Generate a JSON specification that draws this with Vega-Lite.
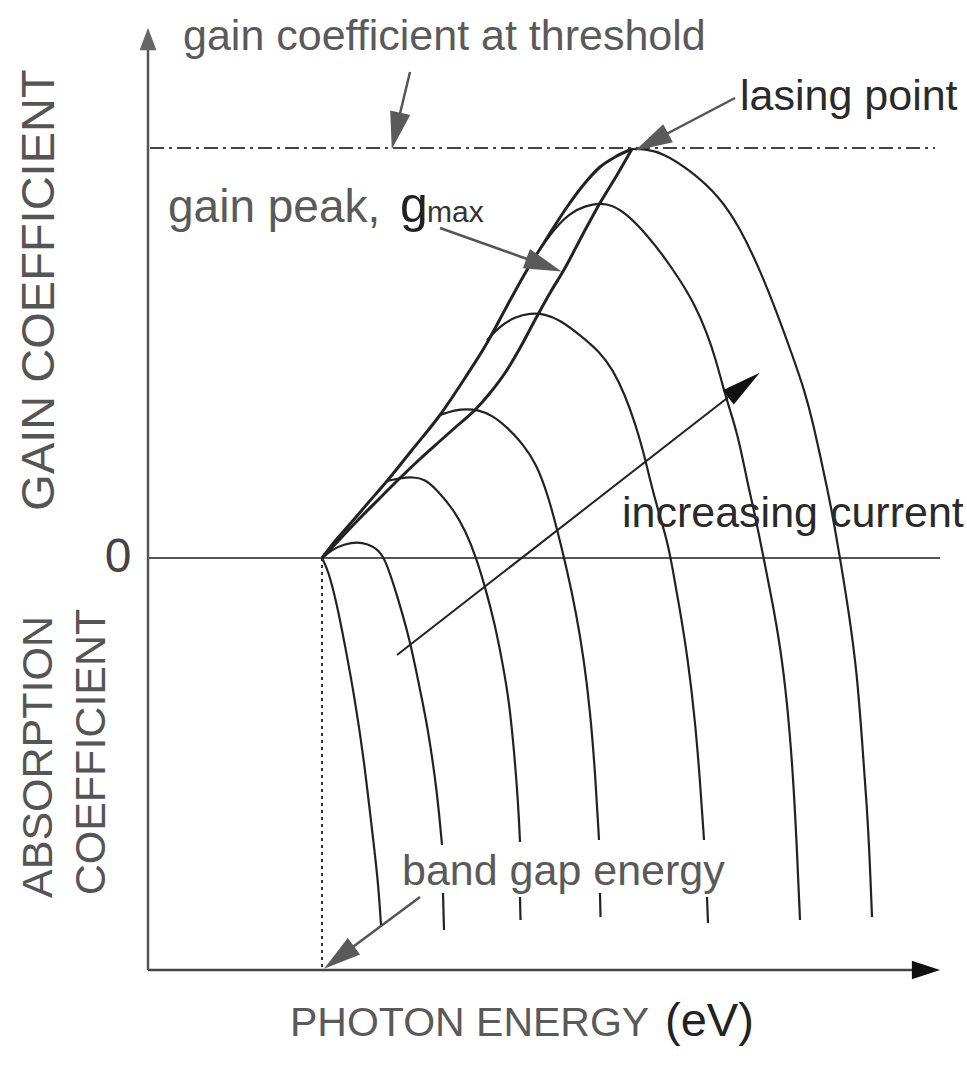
{
 "$schema": "https://vega.github.io/schema/vega-lite/v6.json",
 "width": 967, "height": 1069, "autosize": {"type": "none"}, "padding": 0,
 "background": "white",
 "config": {"view": {"stroke": null}},
 "datasets": {
  "curves": [
   {"s":"A","o":0,"energy":174,"gain":0},{"s":"A","o":1,"energy":180,"gain":-12},{"s":"A","o":2,"energy":188,"gain":-42},{"s":"A","o":3,"energy":197,"gain":-87},{"s":"A","o":4,"energy":207,"gain":-142},{"s":"A","o":5,"energy":216,"gain":-202},{"s":"A","o":6,"energy":224,"gain":-272},{"s":"A","o":7,"energy":230,"gain":-322},{"s":"A","o":8,"energy":233,"gain":-367},
   {"s":"B1","o":0,"energy":174,"gain":0},{"s":"B1","o":1,"energy":185,"gain":9},{"s":"B1","o":2,"energy":197,"gain":14},{"s":"B1","o":3,"energy":209,"gain":16},{"s":"B1","o":4,"energy":220,"gain":14},{"s":"B1","o":5,"energy":229,"gain":9},{"s":"B1","o":6,"energy":237,"gain":0},{"s":"B1","o":7,"energy":249,"gain":-37},{"s":"B1","o":8,"energy":262,"gain":-82},{"s":"B1","o":9,"energy":272,"gain":-132},{"s":"B1","o":10,"energy":279,"gain":-165},{"s":"B1","o":11,"energy":289,"gain":-232},{"s":"B1","o":12,"energy":294,"gain":-287},
   {"s":"B2","o":0,"energy":295,"gain":-335},{"s":"B2","o":1,"energy":296,"gain":-372},
   {"s":"C1","o":0,"energy":239,"gain":77},{"s":"C1","o":1,"energy":252,"gain":80},{"s":"C1","o":2,"energy":265,"gain":81},{"s":"C1","o":3,"energy":277,"gain":79},{"s":"C1","o":4,"energy":289,"gain":68},{"s":"C1","o":5,"energy":306,"gain":48},{"s":"C1","o":6,"energy":318,"gain":26},{"s":"C1","o":7,"energy":328,"gain":1},{"s":"C1","o":8,"energy":338,"gain":-32},{"s":"C1","o":9,"energy":347,"gain":-67},{"s":"C1","o":10,"energy":354,"gain":-102},{"s":"C1","o":11,"energy":361,"gain":-142},{"s":"C1","o":12,"energy":366,"gain":-192},{"s":"C1","o":13,"energy":370,"gain":-242},{"s":"C1","o":14,"energy":372,"gain":-284},
   {"s":"C2","o":0,"energy":372,"gain":-339},{"s":"C2","o":1,"energy":372.5,"gain":-362},
   {"s":"D1","o":0,"energy":292,"gain":143},{"s":"D1","o":1,"energy":307,"gain":148},{"s":"D1","o":2,"energy":319,"gain":149},{"s":"D1","o":3,"energy":330,"gain":148},{"s":"D1","o":4,"energy":344,"gain":143},{"s":"D1","o":5,"energy":360,"gain":130},{"s":"D1","o":6,"energy":374,"gain":115},{"s":"D1","o":7,"energy":388,"gain":95},{"s":"D1","o":8,"energy":400,"gain":63},{"s":"D1","o":9,"energy":410,"gain":25},{"s":"D1","o":10,"energy":419,"gain":-12},{"s":"D1","o":11,"energy":428,"gain":-54},{"s":"D1","o":12,"energy":436,"gain":-102},{"s":"D1","o":13,"energy":442,"gain":-152},{"s":"D1","o":14,"energy":447,"gain":-212},{"s":"D1","o":15,"energy":451,"gain":-282},
   {"s":"D2","o":0,"energy":452,"gain":-335},{"s":"D2","o":1,"energy":452.5,"gain":-359},
   {"s":"E1","o":0,"energy":339,"gain":218},{"s":"E1","o":1,"energy":352,"gain":232},{"s":"E1","o":2,"energy":367,"gain":241},{"s":"E1","o":3,"energy":382,"gain":245},{"s":"E1","o":4,"energy":397,"gain":244},{"s":"E1","o":5,"energy":412,"gain":238},{"s":"E1","o":6,"energy":432,"gain":223},{"s":"E1","o":7,"energy":452,"gain":206},{"s":"E1","o":8,"energy":465,"gain":188},{"s":"E1","o":9,"energy":477,"gain":163},{"s":"E1","o":10,"energy":487,"gain":135},{"s":"E1","o":11,"energy":495,"gain":108},{"s":"E1","o":12,"energy":502,"gain":78},{"s":"E1","o":13,"energy":510,"gain":48},{"s":"E1","o":14,"energy":519,"gain":18},{"s":"E1","o":15,"energy":524,"gain":-7},{"s":"E1","o":16,"energy":532,"gain":-52},{"s":"E1","o":17,"energy":540,"gain":-102},{"s":"E1","o":18,"energy":547,"gain":-162},{"s":"E1","o":19,"energy":552,"gain":-222},{"s":"E1","o":20,"energy":556,"gain":-282},
   {"s":"E2","o":0,"energy":559,"gain":-339},{"s":"E2","o":1,"energy":560,"gain":-365},
   {"s":"F","o":0,"energy":392,"gain":309},{"s":"F","o":1,"energy":407,"gain":330},{"s":"F","o":2,"energy":422,"gain":345},{"s":"F","o":3,"energy":437,"gain":352},{"s":"F","o":4,"energy":452,"gain":355},{"s":"F","o":5,"energy":464,"gain":353},{"s":"F","o":6,"energy":480,"gain":343},{"s":"F","o":7,"energy":499,"gain":323},{"s":"F","o":8,"energy":517,"gain":300},{"s":"F","o":9,"energy":532,"gain":278},{"s":"F","o":10,"energy":547,"gain":253},{"s":"F","o":11,"energy":559,"gain":225},{"s":"F","o":12,"energy":568,"gain":198},{"s":"F","o":13,"energy":575,"gain":171},{"s":"F","o":14,"energy":582,"gain":148},{"s":"F","o":15,"energy":589,"gain":125},{"s":"F","o":16,"energy":595,"gain":98},{"s":"F","o":17,"energy":600,"gain":73},{"s":"F","o":18,"energy":607,"gain":43},{"s":"F","o":19,"energy":612,"gain":18},{"s":"F","o":20,"energy":616,"gain":-2},{"s":"F","o":21,"energy":624,"gain":-42},{"s":"F","o":22,"energy":632,"gain":-87},{"s":"F","o":23,"energy":639,"gain":-142},{"s":"F","o":24,"energy":645,"gain":-215},{"s":"F","o":25,"energy":649,"gain":-292},{"s":"F","o":26,"energy":652,"gain":-362},
   {"s":"G","o":0,"energy":484,"gain":409},{"s":"G","o":1,"energy":497,"gain":409},{"s":"G","o":2,"energy":515,"gain":405},{"s":"G","o":3,"energy":542,"gain":388},{"s":"G","o":4,"energy":572,"gain":361},{"s":"G","o":5,"energy":592,"gain":330},{"s":"G","o":6,"energy":612,"gain":288},{"s":"G","o":7,"energy":629,"gain":245},{"s":"G","o":8,"energy":645,"gain":201},{"s":"G","o":9,"energy":657,"gain":166},{"s":"G","o":10,"energy":665,"gain":135},{"s":"G","o":11,"energy":672,"gain":103},{"s":"G","o":12,"energy":679,"gain":71},{"s":"G","o":13,"energy":686,"gain":35},{"s":"G","o":14,"energy":692,"gain":0},{"s":"G","o":15,"energy":701,"gain":-55},{"s":"G","o":16,"energy":709,"gain":-115},{"s":"G","o":17,"energy":714,"gain":-182},{"s":"G","o":18,"energy":719,"gain":-249},{"s":"G","o":19,"energy":722,"gain":-307},{"s":"G","o":20,"energy":724,"gain":-359}
  ],
  "envelope": [
   {"s":"outer","o":0,"energy":174,"gain":0},{"s":"outer","o":1,"energy":188,"gain":18},{"s":"outer","o":2,"energy":202,"gain":34},{"s":"outer","o":3,"energy":220,"gain":55},{"s":"outer","o":4,"energy":239,"gain":77},{"s":"outer","o":5,"energy":264,"gain":108},{"s":"outer","o":6,"energy":292,"gain":143},{"s":"outer","o":7,"energy":317,"gain":180},{"s":"outer","o":8,"energy":339,"gain":215},{"s":"outer","o":9,"energy":359,"gain":252},{"s":"outer","o":10,"energy":379,"gain":288},{"s":"outer","o":11,"energy":399,"gain":320},{"s":"outer","o":12,"energy":419,"gain":351},{"s":"outer","o":13,"energy":437,"gain":375},{"s":"outer","o":14,"energy":452,"gain":391},{"s":"outer","o":15,"energy":467,"gain":401},{"s":"outer","o":16,"energy":484,"gain":409},
   {"s":"locus","o":0,"energy":174,"gain":0},{"s":"locus","o":1,"energy":193,"gain":20},{"s":"locus","o":2,"energy":212,"gain":40},{"s":"locus","o":3,"energy":232,"gain":60},{"s":"locus","o":4,"energy":252,"gain":80},{"s":"locus","o":5,"energy":272,"gain":99},{"s":"locus","o":6,"energy":292,"gain":117},{"s":"locus","o":7,"energy":310,"gain":133},{"s":"locus","o":8,"energy":327,"gain":148},{"s":"locus","o":9,"energy":342,"gain":165},{"s":"locus","o":10,"energy":357,"gain":185},{"s":"locus","o":11,"energy":372,"gain":210},{"s":"locus","o":12,"energy":387,"gain":238},{"s":"locus","o":13,"energy":402,"gain":265},{"s":"locus","o":14,"energy":417,"gain":290},{"s":"locus","o":15,"energy":435,"gain":324},{"s":"locus","o":16,"energy":452,"gain":355},{"s":"locus","o":17,"energy":469,"gain":383},{"s":"locus","o":18,"energy":484,"gain":409}
  ],
  "segments": [
   {"kind":"yaxis","energy":0,"gain":-412,"energy2":0,"gain2":512},
   {"kind":"xaxis","energy":0,"gain":-412,"energy2":775,"gain2":-412},
   {"kind":"zero","energy":0,"gain":0,"energy2":792,"gain2":0},
   {"kind":"threshold","energy":2,"gain":410,"energy2":787,"gain2":410},
   {"kind":"bandgap","energy":174,"gain":0,"energy2":174,"gain2":-412},
   {"kind":"current","energy":249,"gain":-97,"energy2":596,"gain2":173},
   {"kind":"pointer","energy":262,"gain":486,"energy2":250,"gain2":436},
   {"kind":"pointer","energy":587,"gain":460,"energy2":507,"gain2":418},
   {"kind":"pointer","energy":292,"gain":330,"energy2":382,"gain2":298},
   {"kind":"pointer","energy":272,"gain":-339,"energy2":194,"gain2":-397}
  ],
  "heads": [
   {"kind":"pointer","energy":248,"gain":427,"dir":103},
   {"kind":"pointer","energy":503.5,"gain":416,"dir":152},
   {"kind":"pointer","energy":396,"gain":293,"dir":20},
   {"kind":"pointer","energy":191,"gain":-399.5,"dir":143},
   {"kind":"current","energy":596,"gain":173,"dir":322},
   {"kind":"yaxis","energy":0,"gain":519,"dir":270},
   {"kind":"xaxis","energy":778,"gain":-412,"dir":0}
  ],
  "labels": [
   {"kind":"gray","label":"gain coefficient at threshold","energy":35,"gain":508},
   {"kind":"dark","label":"lasing point","energy":592,"gain":448},
   {"kind":"peak","label":"gain peak,","energy":20,"gain":336},
   {"kind":"gsym","label":"g","energy":252,"gain":336},
   {"kind":"gsub","label":"max","energy":279,"gain":336},
   {"kind":"dark","label":"increasing current","energy":474,"gain":31},
   {"kind":"gray","label":"band gap energy","energy":254,"gain":-327},
   {"kind":"axis","label":"PHOTON ENERGY","energy":142,"gain":-478},
   {"kind":"unit","label":"(eV)","energy":517,"gain":-478},
   {"kind":"zero","label":"0","energy":-30,"gain":0},
   {"kind":"vbig","label":"GAIN COEFFICIENT","energy":-108,"gain":268},
   {"kind":"vert","label":"ABSORPTION","energy":-109,"gain":-199},
   {"kind":"vert","label":"COEFFICIENT","energy":-56,"gain":-194}
  ]
 },
 "encoding": {
  "x": {"field": "energy", "type": "quantitative", "scale": {"domain": [-148, 819], "nice": false, "zero": false}, "axis": null},
  "y": {"field": "gain", "type": "quantitative", "scale": {"domain": [-511, 558], "nice": false, "zero": false}, "axis": null}
 },
 "layer": [
  {"data": {"name": "segments"}, "transform": [{"filter": "datum.kind == 'yaxis'"}],
   "mark": {"type": "rule", "stroke": "#555", "strokeWidth": 2.5},
   "encoding": {"x2": {"field": "energy2"}, "y2": {"field": "gain2"}}},
  {"data": {"name": "segments"}, "transform": [{"filter": "datum.kind == 'xaxis'"}],
   "mark": {"type": "rule", "stroke": "#444", "strokeWidth": 2.5},
   "encoding": {"x2": {"field": "energy2"}, "y2": {"field": "gain2"}}},
  {"data": {"name": "segments"}, "transform": [{"filter": "datum.kind == 'zero'"}],
   "mark": {"type": "rule", "stroke": "#555", "strokeWidth": 2},
   "encoding": {"x2": {"field": "energy2"}, "y2": {"field": "gain2"}}},
  {"data": {"name": "segments"}, "transform": [{"filter": "datum.kind == 'threshold'"}],
   "mark": {"type": "rule", "stroke": "#444", "strokeWidth": 2, "strokeDash": [14, 5, 3, 5]},
   "encoding": {"x2": {"field": "energy2"}, "y2": {"field": "gain2"}}},
  {"data": {"name": "segments"}, "transform": [{"filter": "datum.kind == 'bandgap'"}],
   "mark": {"type": "rule", "stroke": "#333", "strokeWidth": 2, "strokeDash": [3, 4]},
   "encoding": {"x2": {"field": "energy2"}, "y2": {"field": "gain2"}}},
  {"data": {"name": "segments"}, "transform": [{"filter": "datum.kind == 'current'"}],
   "mark": {"type": "rule", "stroke": "#222", "strokeWidth": 2},
   "encoding": {"x2": {"field": "energy2"}, "y2": {"field": "gain2"}}},
  {"data": {"name": "segments"}, "transform": [{"filter": "datum.kind == 'pointer'"}],
   "mark": {"type": "rule", "stroke": "#555", "strokeWidth": 2.5},
   "encoding": {"x2": {"field": "energy2"}, "y2": {"field": "gain2"}}},
  {"data": {"name": "curves"},
   "mark": {"type": "line", "stroke": "#222", "strokeWidth": 2.2, "interpolate": "basis"},
   "encoding": {"detail": {"field": "s"}, "order": {"field": "o", "type": "quantitative"}}},
  {"data": {"name": "envelope"},
   "mark": {"type": "line", "stroke": "#222", "strokeWidth": 3, "interpolate": "monotone"},
   "encoding": {"detail": {"field": "s"}, "order": {"field": "o", "type": "quantitative"}}},
  {"data": {"name": "heads"}, "transform": [{"filter": "datum.kind == 'pointer'"}],
   "mark": {"type": "point", "shape": "M 1 0 L -1 -0.55 L -1 0.55 Z", "filled": true, "fill": "#5a5a5a", "opacity": 1, "size": 1400, "strokeWidth": 0},
   "encoding": {"angle": {"field": "dir", "type": "quantitative", "scale": null}}},
  {"data": {"name": "heads"}, "transform": [{"filter": "datum.kind == 'current'"}],
   "mark": {"type": "point", "shape": "M 1 0 L -1 -0.45 L -1 0.45 Z", "filled": true, "fill": "#111", "opacity": 1, "size": 1600, "strokeWidth": 0},
   "encoding": {"angle": {"field": "dir", "type": "quantitative", "scale": null}}},
  {"data": {"name": "heads"}, "transform": [{"filter": "datum.kind == 'yaxis'"}],
   "mark": {"type": "point", "shape": "M 1 0 L -1 -0.75 L -1 0.75 Z", "filled": true, "fill": "#666", "opacity": 1, "size": 500, "strokeWidth": 0},
   "encoding": {"angle": {"field": "dir", "type": "quantitative", "scale": null}}},
  {"data": {"name": "heads"}, "transform": [{"filter": "datum.kind == 'xaxis'"}],
   "mark": {"type": "point", "shape": "M 1 0 L -1 -0.65 L -1 0.65 Z", "filled": true, "fill": "#111", "opacity": 1, "size": 800, "strokeWidth": 0},
   "encoding": {"angle": {"field": "dir", "type": "quantitative", "scale": null}}},
  {"data": {"name": "labels"}, "transform": [{"filter": "datum.kind == 'gray'"}],
   "mark": {"type": "text", "font": "'Liberation Sans', sans-serif", "fontSize": 43, "align": "left", "baseline": "alphabetic", "fill": "#5a5a5a"},
   "encoding": {"text": {"field": "label"}}},
  {"data": {"name": "labels"}, "transform": [{"filter": "datum.kind == 'dark'"}],
   "mark": {"type": "text", "font": "'Liberation Sans', sans-serif", "fontSize": 43, "align": "left", "baseline": "alphabetic", "fill": "#2a2a2a"},
   "encoding": {"text": {"field": "label"}}},
  {"data": {"name": "labels"}, "transform": [{"filter": "datum.kind == 'peak'"}],
   "mark": {"type": "text", "font": "'Liberation Sans', sans-serif", "fontSize": 46, "align": "left", "baseline": "alphabetic", "fill": "#5a5a5a"},
   "encoding": {"text": {"field": "label"}}},
  {"data": {"name": "labels"}, "transform": [{"filter": "datum.kind == 'gsym'"}],
   "mark": {"type": "text", "font": "'Liberation Sans', sans-serif", "fontSize": 50, "align": "left", "baseline": "alphabetic", "fill": "#222"},
   "encoding": {"text": {"field": "label"}}},
  {"data": {"name": "labels"}, "transform": [{"filter": "datum.kind == 'gsub'"}],
   "mark": {"type": "text", "font": "'Liberation Sans', sans-serif", "fontSize": 30, "align": "left", "baseline": "alphabetic", "fill": "#333"},
   "encoding": {"text": {"field": "label"}}},
  {"data": {"name": "labels"}, "transform": [{"filter": "datum.kind == 'axis'"}],
   "mark": {"type": "text", "font": "'Liberation Sans', sans-serif", "fontSize": 41, "align": "left", "baseline": "alphabetic", "fill": "#5a5a5a"},
   "encoding": {"text": {"field": "label"}}},
  {"data": {"name": "labels"}, "transform": [{"filter": "datum.kind == 'unit'"}],
   "mark": {"type": "text", "font": "'Liberation Sans', sans-serif", "fontSize": 47, "align": "left", "baseline": "alphabetic", "fill": "#222"},
   "encoding": {"text": {"field": "label"}}},
  {"data": {"name": "labels"}, "transform": [{"filter": "datum.kind == 'zero'"}],
   "mark": {"type": "text", "font": "'Liberation Sans', sans-serif", "fontSize": 48, "align": "center", "baseline": "middle", "fill": "#444"},
   "encoding": {"text": {"field": "label"}}},
  {"data": {"name": "labels"}, "transform": [{"filter": "datum.kind == 'vbig'"}],
   "mark": {"type": "text", "font": "'Liberation Sans', sans-serif", "fontSize": 47, "align": "center", "baseline": "middle", "angle": 270, "fill": "#555"},
   "encoding": {"text": {"field": "label"}}},
  {"data": {"name": "labels"}, "transform": [{"filter": "datum.kind == 'vert'"}],
   "mark": {"type": "text", "font": "'Liberation Sans', sans-serif", "fontSize": 43, "align": "center", "baseline": "middle", "angle": 270, "fill": "#555"},
   "encoding": {"text": {"field": "label"}}}
 ]
}
